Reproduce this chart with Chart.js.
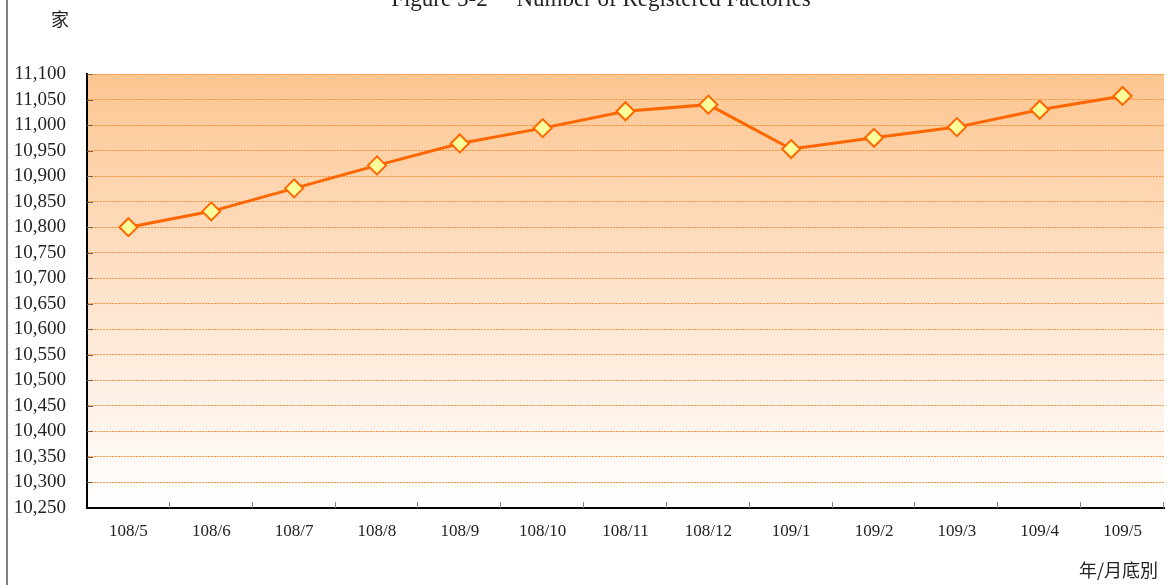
<!DOCTYPE html>
<html>
<head>
<meta charset="utf-8">
<script src="https://cdn.jsdelivr.net/npm/chart.js@4"></script>
<style>
  html, body { margin: 0; padding: 0; background: #fff; }
  #wrap { width: 1168px; height: 585px; position: relative; }
</style>
</head>
<body>
<div id="wrap"><canvas id="factoryChart" width="1168" height="585"></canvas></div>
<script>
const months = ['108/5', '108/6', '108/7', '108/8', '108/9', '108/10', '108/11', '108/12', '109/1', '109/2', '109/3', '109/4', '109/5'];
const factories = [10800, 10831, 10876, 10921, 10964, 10994, 11027, 11040, 10953, 10975, 10996, 11030, 11057];
const yMin = 10250;
const yMax = 11100;
const yStep = 50;

const chartTitle = 'Figure 5-2\u3000 Number of Registered Factories';
const yUnit = '家';
const xUnit = '年/月底別';

// frame line, gradient plot background, inside tick marks, free texts
const decorPlugin = {
  id: 'decor',
  beforeDraw(chart) {
    const { ctx, chartArea: a } = chart;
    ctx.save();
    const g = ctx.createLinearGradient(0, a.top, 0, a.bottom);
    g.addColorStop(0, '#fdc690');
    g.addColorStop(0.45, '#fee0c6');
    g.addColorStop(0.8, '#fff4ec');
    g.addColorStop(1, '#ffffff');
    ctx.fillStyle = g;
    ctx.fillRect(a.left, a.top, a.right - a.left, a.bottom - a.top);

    ctx.strokeStyle = '#808080';
    ctx.lineWidth = 2;
    ctx.beginPath();
    ctx.moveTo(7, 0);
    ctx.lineTo(7, chart.height);
    ctx.stroke();
    ctx.restore();
  },
  afterDatasetsDraw(chart) {
    const { ctx, scales: { x, y } } = chart;
    ctx.save();
    ctx.lineWidth = 1;
    ctx.strokeStyle = '#7a5a48';
    y.ticks.forEach((t, i) => {
      if (i === 0) return;
      const py = Math.round(y.getPixelForTick(i)) + 0.5;
      ctx.beginPath();
      ctx.moveTo(x.left, py);
      ctx.lineTo(x.left + 6, py);
      ctx.stroke();
    });
    ctx.strokeStyle = '#888';
    const n = months.length;
    for (let i = 1; i <= n; i++) {
      const px = Math.round(x.left + i * (x.right - x.left) / n) - 0.5;
      ctx.beginPath();
      ctx.moveTo(px, y.bottom);
      ctx.lineTo(px, y.bottom - 6);
      ctx.stroke();
    }

    ctx.fillStyle = '#222';
    ctx.textBaseline = 'alphabetic';
    ctx.font = '23px "Liberation Serif", serif';
    ctx.textAlign = 'center';
    ctx.fillText(chartTitle, 601, 6);
    ctx.font = '18px "Noto Sans CJK TC", sans-serif';
    ctx.textAlign = 'left';
    ctx.fillText(yUnit, 51, 26);
    ctx.textAlign = 'right';
    ctx.fillText(xUnit, 1158, 577);
    ctx.restore();
  }
};

new Chart(document.getElementById('factoryChart'), {
  type: 'line',
  data: {
    labels: months,
    datasets: [{
      label: 'factories',
      data: factories,
      borderColor: '#ff6600',
      borderWidth: 3,
      pointStyle: 'rectRot',
      pointRadius: 9,
      pointHoverRadius: 9,
      pointBackgroundColor: '#ffff99',
      pointBorderColor: '#ff6600',
      pointBorderWidth: 2,
      tension: 0,
    }],
  },
  options: {
    responsive: false,
    animation: false,
    events: [],
    layout: { autoPadding: false, padding: { top: 74, right: 4, left: 0, bottom: 0 } },
    plugins: {
      legend: { display: false },
      title: { display: false },
      tooltip: { enabled: false },
    },
    scales: {
      x: {
        offset: true,
        grid: { display: false, drawTicks: false },
        border: { color: '#000', width: 2 },
        ticks: {
          color: '#222',
          padding: 13,
          font: { family: '"Liberation Serif", serif', size: 17 },
          maxRotation: 0,
          autoSkip: false,
        },
        afterFit(scale) { scale.height = 77; },
      },
      y: {
        min: yMin,
        max: yMax,
        grid: {
          color: (c) => (c.index === 0 ? 'rgba(0,0,0,0)' : '#ff9240'),
          lineWidth: 1,
          drawTicks: false,
        },
        border: { color: '#000', width: 2, dash: [2, 1] },
        ticks: {
          stepSize: yStep,
          autoSkip: false,
          color: '#222',
          padding: 21,
          font: { family: '"Liberation Serif", serif', size: 19 },
          callback: (v) => v.toLocaleString('en-US'),
        },
        afterFit(scale) { scale.width = 87; },
      },
    },
  },
  plugins: [decorPlugin],
});
</script>
</body>
</html>
